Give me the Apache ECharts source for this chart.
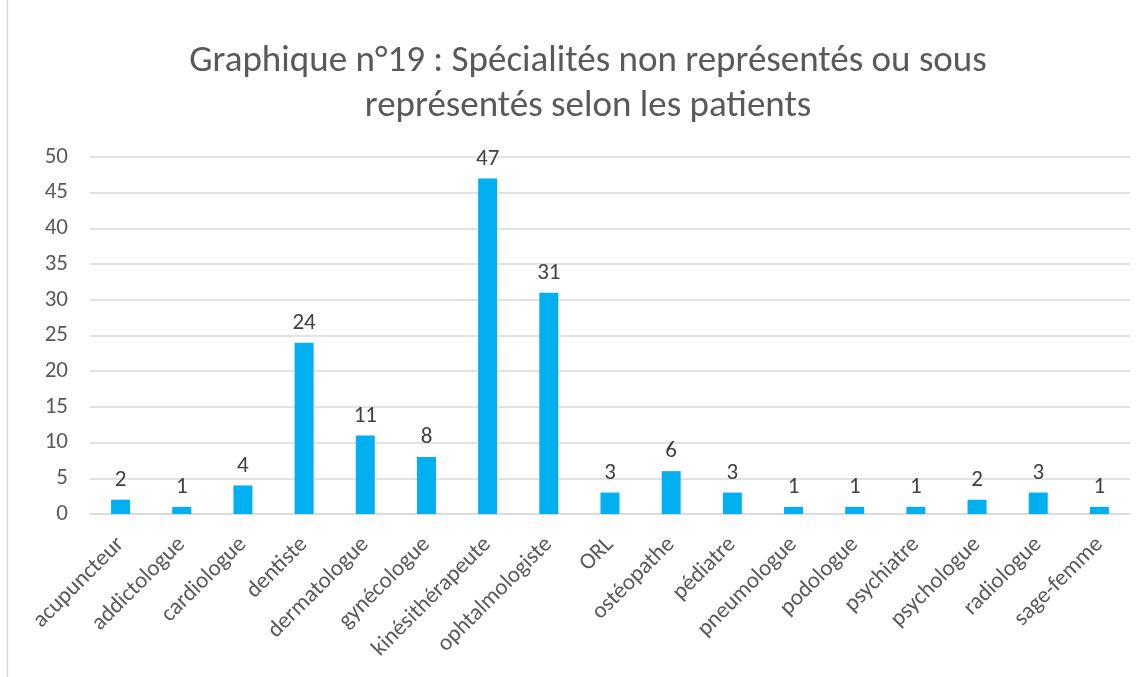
<!DOCTYPE html>
<html>
<head>
<meta charset="utf-8">
<script src="https://cdn.jsdelivr.net/npm/echarts@6/dist/echarts.min.js"></script>
<style>
  html, body { margin: 0; padding: 0; background: #fff; }
  #chart { width: 1147px; height: 677px; }
</style>
</head>
<body>
<div id="chart"></div>
<script>
var categories = ['acupuncteur', 'addictologue', 'cardiologue', 'dentiste', 'dermatologue',
    'gynécologue', 'kinésithérapeute', 'ophtalmologiste', 'ORL', 'ostéopathe', 'pédiatre',
    'pneumologue', 'podologue', 'psychiatre', 'psychologue', 'radiologue', 'sage-femme'];
var counts = [2, 1, 4, 24, 11, 8, 47, 31, 3, 6, 3, 1, 1, 1, 2, 3, 1];
var yTicks = { min: 0, max: 50, interval: 5 };

var myChart = echarts.init(document.getElementById('chart'));
var font = 'Calibri, Carlito, "Open Sans", sans-serif';

var option = {
    backgroundColor: '#fff',
    animation: false,
    title: {
        text: 'Graphique n°19 : Spécialités non représentés ou sous\nreprésentés selon les patients',
        left: 583,
        textAlign: 'center',
        top: 34,
        textStyle: {
            color: '#595959',
            fontFamily: font,
            fontSize: 37,
            fontWeight: 'normal',
            lineHeight: 45
        }
    },
    graphic: [{
        type: 'line',
        shape: { x1: 7.5, y1: 0, x2: 7.5, y2: 677 },
        style: { stroke: '#d9d9d9', lineWidth: 1.5 }
    }],
    grid: {
        left: 90,
        right: 17,
        top: 157,
        bottom: 163,
        containLabel: false
    },
    xAxis: {
        type: 'category',
        data: categories,
        axisTick: { show: false },
        axisLine: { lineStyle: { color: '#d9d9d9', width: 1.5 } },
        axisLabel: {
            rotate: 45,
            interval: 0,
            color: '#595959',
            fontFamily: font,
            fontSize: 23,
            margin: 27
        }
    },
    yAxis: {
        type: 'value',
        min: yTicks.min,
        max: yTicks.max,
        interval: yTicks.interval,
        axisLine: { show: false },
        axisTick: { show: false },
        splitLine: { lineStyle: { color: '#d9d9d9', width: 1.5 } },
        axisLabel: {
            color: '#595959',
            fontFamily: font,
            fontSize: 23,
            margin: 22
        }
    },
    series: [{
        type: 'bar',
        data: counts,
        barWidth: 19,
        itemStyle: { color: '#00b0f0' },
        label: {
            show: true,
            position: 'top',
            distance: 8,
            color: '#404040',
            fontFamily: font,
            fontSize: 23
        }
    }]
};
myChart.setOption(option);
</script>
</body>
</html>
